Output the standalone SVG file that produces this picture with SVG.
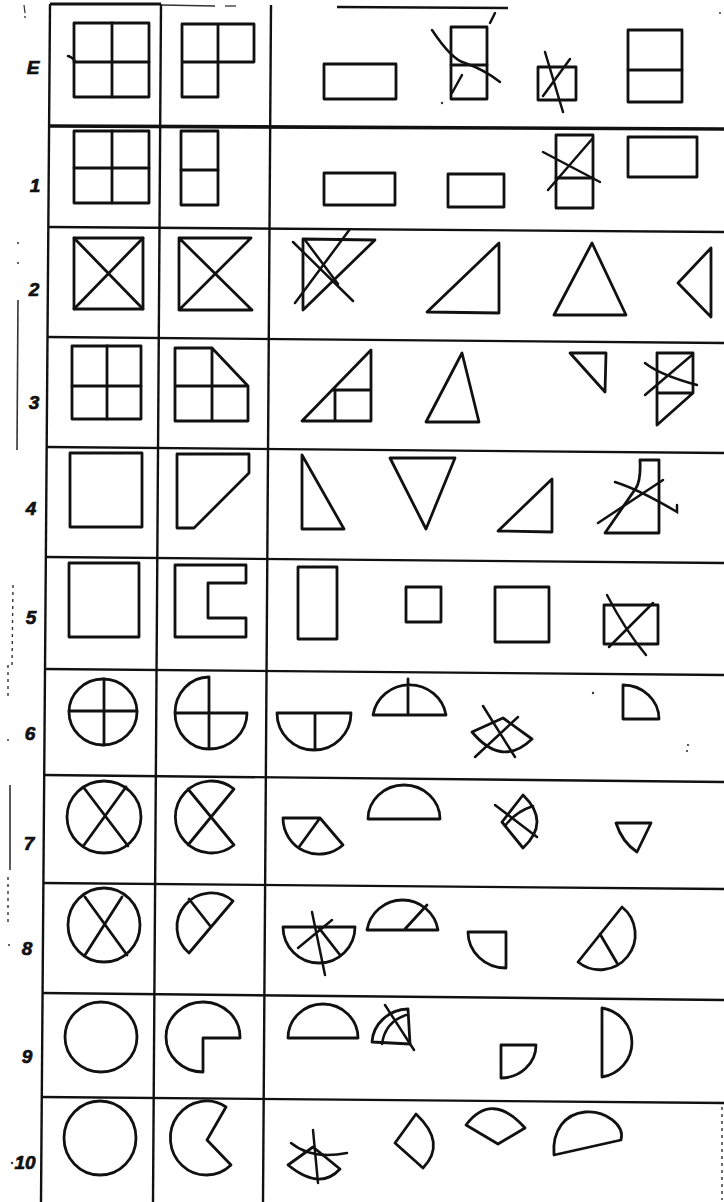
<svg xmlns="http://www.w3.org/2000/svg" width="724" height="1202" viewBox="0 0 724 1202">
<style>
.s{fill:none;stroke:#111;stroke-width:2.8;stroke-linejoin:round;stroke-linecap:round}
.x{fill:none;stroke:#111;stroke-width:2.5;stroke-linecap:round}
.g{fill:none;stroke:#111;stroke-width:2.4}
.t{fill:none;stroke:#333;stroke-width:1.3}
.d{fill:none;stroke:#333;stroke-width:1.4;stroke-dasharray:3 4}
.lbl{font-family:"Liberation Sans",Arial,sans-serif;font-weight:bold;font-style:italic;font-size:19px;fill:#111;stroke:#111;stroke-width:0.7;text-anchor:middle}
.sp{fill:#333}
</style>
<rect width="724" height="1202" fill="#fff"/>
<g id="grid">
<line class="g" x1="50" y1="4" x2="41" y2="1202"/>
<line class="g" x1="161" y1="4" x2="153" y2="1202"/>
<line class="g" x1="271" y1="5" x2="263" y2="1202"/>
<line class="g" x1="50" y1="4" x2="161" y2="4" style="stroke-width:2.8"/>
<line class="t" x1="161" y1="5" x2="215" y2="6"/>
<line class="t" x1="225" y1="6" x2="236" y2="6"/>
<line class="g" x1="337" y1="7" x2="508" y2="8"/>
<line class="g" x1="50" y1="126" x2="724" y2="129" style="stroke-width:3.6"/>
<line class="g" x1="49" y1="227" x2="724" y2="232"/>
<line class="g" x1="47" y1="337" x2="724" y2="343"/>
<line class="g" x1="47" y1="447" x2="724" y2="453"/>
<line class="g" x1="46" y1="557" x2="724" y2="563"/>
<line class="g" x1="45" y1="669" x2="724" y2="675"/>
<line class="g" x1="44" y1="775" x2="724" y2="782"/>
<line class="g" x1="43" y1="883" x2="724" y2="889"/>
<line class="g" x1="42" y1="993" x2="724" y2="1000"/>
<line class="g" x1="41" y1="1097" x2="724" y2="1103"/>
</g>
<g id="margin">
<line class="t" x1="24" y1="5" x2="25" y2="13"/>
<circle class="sp" cx="25" cy="17" r="0.9"/>
<circle class="sp" cx="18" cy="243" r="1"/>
<circle class="sp" cx="18" cy="263" r="1"/>
<line class="t" x1="18" y1="300" x2="17" y2="450" style="stroke-width:1.6"/>
<line class="d" x1="13" y1="585" x2="12" y2="668"/>
<line class="d" x1="8" y1="665" x2="8" y2="700"/>
<circle class="sp" cx="8" cy="740" r="1"/>
<line class="t" x1="10" y1="785" x2="10" y2="870" style="stroke-width:1.6"/>
<line class="d" x1="8" y1="877" x2="8" y2="925"/>
<circle class="sp" cx="9" cy="945" r="1"/>
<circle class="sp" cx="12" cy="1163" r="1.2"/>
<line class="d" x1="722" y1="1107" x2="722" y2="1200"/>
<circle class="sp" cx="720" cy="13" r="1"/>
</g>
<g id="labels">
<text class="lbl" x="33" y="74">E</text>
<text class="lbl" x="35" y="192">1</text>
<text class="lbl" x="34" y="296">2</text>
<text class="lbl" x="34" y="409">3</text>
<text class="lbl" x="31" y="515">4</text>
<text class="lbl" x="31" y="624">5</text>
<text class="lbl" x="30" y="740">6</text>
<text class="lbl" x="29" y="850">7</text>
<text class="lbl" x="27" y="955">8</text>
<text class="lbl" x="27" y="1063">9</text>
<text class="lbl" x="25" y="1169">10</text>
</g>
<g id="rowE">
<rect class="s" x="74" y="23" width="75" height="74"/>
<line class="s" x1="112" y1="23" x2="112" y2="97"/>
<line class="s" x1="74" y1="62" x2="149" y2="62"/>
<path class="x" d="M68 56 Q72 57 75 61"/>
<path class="s" d="M182 24 H254 V62 H218 V97 H182 Z M182 62 H218 M218 24 V62"/>
<rect class="s" x="324" y="64" width="72" height="35"/>
<rect class="s" x="451" y="27" width="36" height="72"/>
<line class="s" x1="451" y1="65" x2="487" y2="65"/>
<path class="x" d="M432 30 Q452 60 465 63 Q485 70 500 82"/>
<path class="x" d="M495 13 L490 23 M462 75 L452 93"/>
<circle class="sp" cx="442" cy="103" r="1.2"/>
<rect class="s" x="538" y="67" width="38" height="33"/>
<path class="x" d="M545 52 L563 112 M570 59 L543 96"/>
<rect class="s" x="628" y="30" width="54" height="72"/>
<line class="s" x1="628" y1="70" x2="682" y2="70"/>
</g>
<g id="row1">
<rect class="s" x="74" y="131" width="75" height="72"/>
<line class="s" x1="112" y1="131" x2="112" y2="203"/>
<line class="s" x1="74" y1="168" x2="149" y2="168"/>
<rect class="s" x="181" y="131" width="37" height="74"/>
<line class="s" x1="181" y1="170" x2="218" y2="170"/>
<rect class="s" x="324" y="173" width="71" height="32"/>
<rect class="s" x="448" y="174" width="56" height="33"/>
<rect class="s" x="556" y="135" width="37" height="73"/>
<line class="s" x1="556" y1="178" x2="593" y2="178"/>
<path class="x" d="M593 138 L548 190 M543 152 L600 182"/>
<rect class="s" x="628" y="137" width="69" height="40"/>
</g>
<g id="row2">
<rect class="s" x="74" y="238" width="69" height="71"/>
<path class="s" d="M74 238 L143 309 M143 238 L74 309"/>
<path class="s" d="M251 238 H179 V310 H252 M179 238 L252 310 M251 238 L179 310"/>
<path class="s" d="M303 239 L375 240 L303 310 Z"/>
<path class="x" d="M350 229 L295 303 M293 242 L353 301 M305 240 L338 284"/>
<path class="s" d="M427 312 L499 243 L499 313 Z"/>
<path class="s" d="M592 243 L554 315 L626 315 Z"/>
<path class="s" d="M711 248 L678 283 L711 317 Z"/>
</g>
<g id="row3">
<rect class="s" x="72" y="346" width="69" height="73"/>
<path class="s" d="M107 346 V419 M72 386 H141"/>
<path class="s" d="M175 348 H212 L248 386 V421 H175 Z M212 348 V421 M175 386 H248"/>
<path class="s" d="M302 421 L371 350 L371 421 Z M332 390 H371 M335 390 V421"/>
<path class="s" d="M462 353 L426 422 L479 422 Z"/>
<path class="s" d="M570 353 L606 353 L605 392 Z"/>
<path class="s" d="M657 353 H693 V393 L657 425 Z M657 393 H693"/>
<path class="x" d="M692 355 L645 395 M645 363 Q660 375 697 385"/>
</g>
<g id="row4">
<rect class="s" x="70" y="453" width="72" height="74"/>
<path class="s" d="M177 454 H249 V473 L194 528 H177 Z"/>
<path class="s" d="M302 455 L344 529 H302 Z"/>
<path class="s" d="M390 458 H455 L426 529 Z"/>
<path class="s" d="M498 531 L552 479 V532 Z"/>
<path class="s" d="M640 460 H659 V533 H605 L636 488 Q641 480 640 460 Z"/>
<path class="x" d="M598 523 L663 480 M615 482 Q640 490 677 512 L677 505"/>
</g>
<g id="row5">
<rect class="s" x="69" y="563" width="70" height="74"/>
<path class="s" d="M175 565 H246 V583 H208 V618 H246 V637 H175 Z"/>
<rect class="s" x="298" y="567" width="39" height="72"/>
<rect class="s" x="406" y="587" width="35" height="35"/>
<rect class="s" x="495" y="587" width="54" height="55"/>
<rect class="s" x="604" y="605" width="54" height="39"/>
<path class="x" d="M607 595 Q625 630 646 655 M653 603 L609 647"/>
</g>
<g id="row6">
<ellipse class="s" cx="103" cy="712" rx="34" ry="33"/>
<path class="s" d="M104 679 V745 M69 711 H137"/>
<path class="s" d="M209 677 A34 36 0 0 0 209 749 A38 36 0 0 0 247 713 H175 M209 677 V749"/>
<path class="s" d="M277 713 H351 A37 37 0 0 1 277 713 Z M315 713 V750"/>
<path class="s" d="M373 715 H446 A37 36 0 0 0 373 715 Z M408 679 V715"/>
<path class="s" d="M472 732 L503 718 L532 739 Q502 768 472 732 Z"/>
<path class="x" d="M483 706 L515 757 M518 717 L475 757"/>
<path class="s" d="M623 685 V719 H659 A36 34 0 0 0 623 685 Z"/>
<circle class="sp" cx="593" cy="693" r="1.2"/>
<circle class="sp" cx="688" cy="745" r="1.1"/>
<circle class="sp" cx="687" cy="751" r="1.1"/>
</g>
<g id="row7">
<ellipse class="s" cx="104" cy="817" rx="37" ry="36"/>
<path class="s" d="M84 788 L128 846 M126 787 L84 845"/>
<path class="s" d="M234 789 A36 36 0 1 0 234 845 L211 817 Z M188 789 L211 817 L188 845"/>
<path class="s" d="M283 818 H320 L343 845 A36 36 0 0 1 283 818 Z M320 818 L299 847"/>
<path class="s" d="M368 819 H440 A36 34 0 0 0 368 819 Z"/>
<path class="s" d="M523 795 L502 822 L523 848 Q551 822 523 795 Z"/>
<path class="x" d="M495 805 L537 837 M533 806 Q515 812 505 826"/>
<path class="s" d="M616 823 H651 L637 852 Q622 842 616 823 Z"/>
</g>
<g id="row8">
<ellipse class="s" cx="104" cy="925" rx="36" ry="37"/>
<path class="s" d="M85 897 L127 955 M122 897 L85 955"/>
<path class="s" d="M233 901 A34 34 0 0 0 189 953 Z M189 899 L211 927"/>
<path class="s" d="M283 927 H355 A36 36 0 0 1 283 927 Z M319 928 L340 955"/>
<path class="x" d="M312 912 L325 975 M332 920 L298 948"/>
<path class="s" d="M367 930 H438 A36 36 0 0 0 367 930 Z M405 929 L427 905"/>
<path class="s" d="M468 932 H506 V968 A38 36 0 0 1 468 932 Z"/>
<path class="s" d="M578 962 L622 907 A35 35 0 0 1 578 962 Z M600 934 L617 963"/>
</g>
<g id="row9">
<ellipse class="s" cx="101" cy="1037" rx="36" ry="35"/>
<path class="s" d="M240 1038 H203 V1072 A37 35 0 1 1 240 1038 Z"/>
<path class="s" d="M288 1038 H358 A35 34 0 0 0 288 1038 Z"/>
<path class="s" d="M372 1042 L410 1044 L408 1009 A37 35 0 0 0 372 1042 Z"/>
<path class="x" d="M382 1044 Q385 1022 406 1015 M385 1005 L414 1050"/>
<path class="s" d="M501 1045 H536 A35 33 0 0 1 501 1078 Z"/>
<path class="s" d="M602 1008 V1077 A36 35 0 0 0 602 1008 Z"/>
</g>
<g id="row10">
<ellipse class="s" cx="100" cy="1138" rx="36" ry="37"/>
<path class="s" d="M226 1107 A36 37 0 1 0 231 1165 L207 1140 Z"/>
<path class="s" d="M288 1165 L313 1147 L340 1169 Q320 1191 288 1165 Z"/>
<path class="x" d="M313 1130 L318 1183 M291 1143 Q312 1160 347 1153"/>
<path class="s" d="M416 1114 L395 1143 L423 1168 Q447 1143 416 1114 Z"/>
<path class="s" d="M466 1125 L498 1144 L525 1128 Q492 1091 466 1125 Z"/>
<path class="s" d="M554 1155 L621 1140 C625 1125 605 1110 585 1112 C565 1114 552 1130 554 1155 Z"/>
</g>
</svg>
